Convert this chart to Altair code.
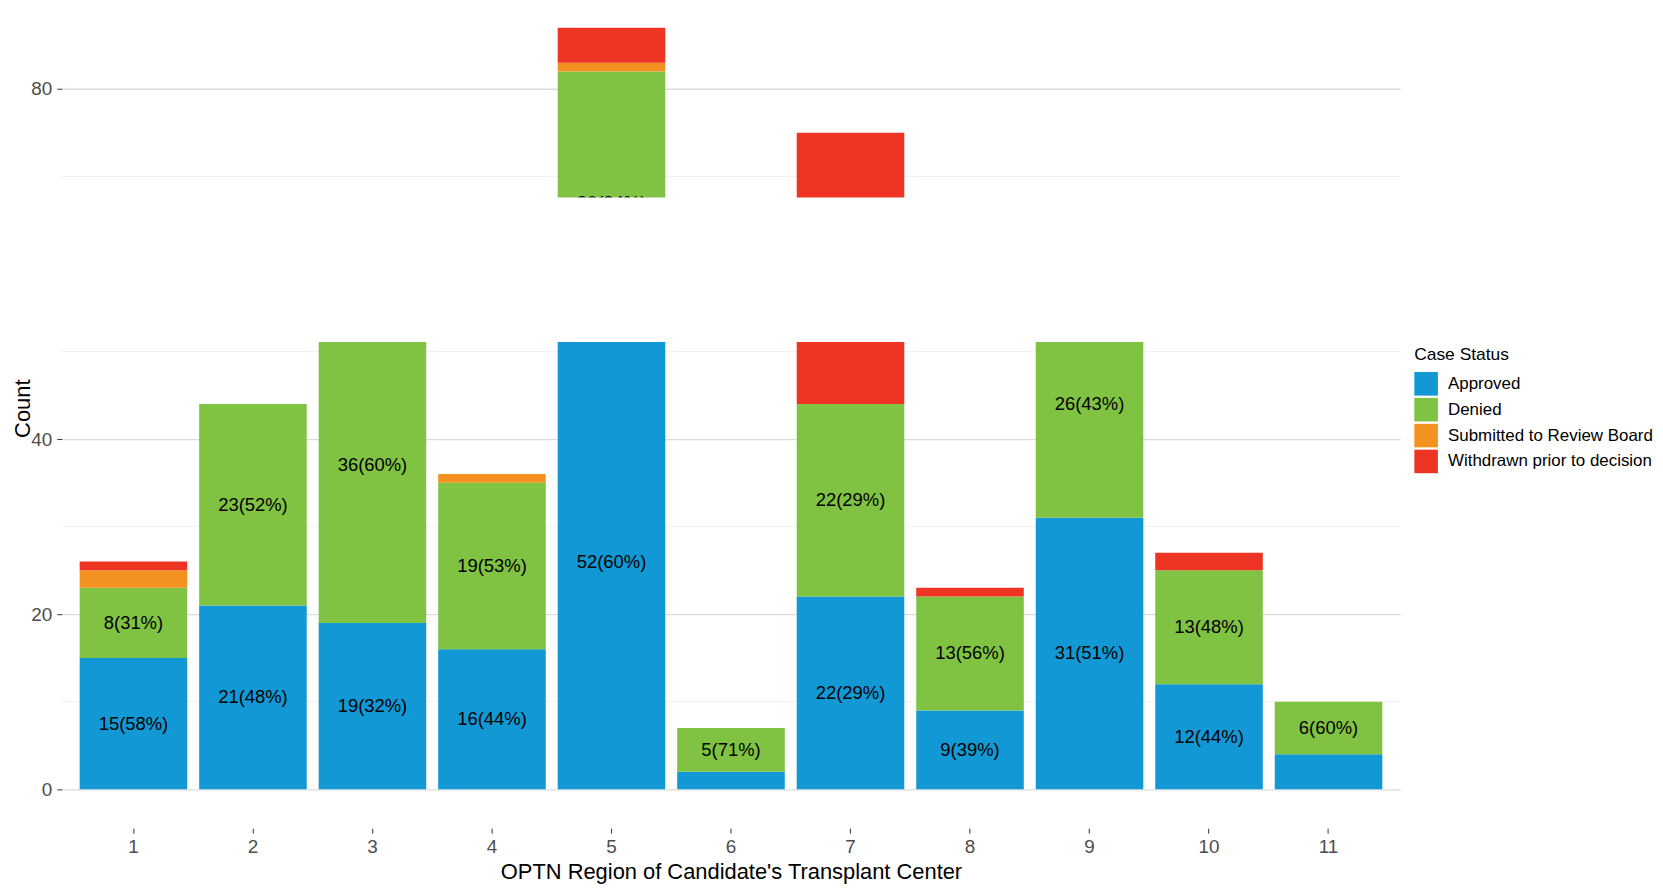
import altair as alt
import pandas as pd

regions = ["1", "2", "3", "4", "5", "6", "7", "8", "9", "10", "11"]
statuses = ["Approved", "Denied", "Submitted to Review Board", "Withdrawn prior to decision"]
colors = ["#1198d5", "#80c242", "#f39121", "#ee3524"]

approved = [15, 21, 19, 16, 52, 2, 22, 9, 31, 12, 4]
denied = [8, 23, 36, 19, 30, 5, 22, 13, 26, 13, 6]
submitted = [2, 0, 0, 1, 1, 0, 0, 0, 0, 0, 0]
withdrawn = [1, 0, 5, 0, 4, 0, 31, 1, 4, 2, 0]

approved_pct = [58, 48, 32, 44, 60, 29, 29, 39, 51, 44, 40]
denied_pct = [31, 52, 60, 53, 34, 71, 29, 56, 43, 48, 60]

major_ticks = [0, 20, 40, 80]
minor_grid = [10, 30, 50, 70]
gap_low = 51.1
gap_high = 67.6
y_domain = [-4.45, 89.0]

rows = []
for i, r in enumerate(regions):
    for k, (s, vals) in enumerate(zip(statuses, [approved, denied, submitted, withdrawn])):
        pct = approved_pct[i] if k == 0 else (denied_pct[i] if k == 1 else 0)
        rows.append({"region": r, "status": s, "count": vals[i], "ord": k, "pct": pct})
df = pd.DataFrame(rows)

FONT = "Liberation Sans"
W, H = 1345, 822

x_axis = alt.Axis(title="OPTN Region of Candidate's Transplant Center", labelAngle=0,
                  grid=False, domain=False, ticks=True, tickSize=5, tickColor="#333333",
                  labelFontSize=19, labelColor="#4d4d4d", labelPadding=4,
                  titleFontSize=22, titleColor="black", titleFontWeight="normal",
                  titleY=44, titleBaseline="middle")
x_scale = alt.Scale(paddingInner=0.1, paddingOuter=0.15)

y_axis = alt.Axis(title="Count", values=major_ticks, grid=True, gridColor="#dcdcdc",
                  gridWidth=1.3, domain=False, tickSize=5, tickColor="#333333",
                  labelFontSize=19, labelColor="#4d4d4d", labelPadding=5,
                  titleFontSize=22, titleColor="black", titleFontWeight="normal",
                  titleAngle=270, titleX=-39, titleY=400, titleBaseline="middle")
y_scale = alt.Scale(domain=y_domain, nice=False, zero=False)

minor = alt.Chart(pd.DataFrame({"v": minor_grid})).mark_rule(color="#f2f2f2", strokeWidth=1).encode(
    y=alt.Y("v:Q", scale=y_scale, axis=y_axis))

bars = alt.Chart(df).mark_bar().encode(
    x=alt.X("region:N", sort=regions, scale=x_scale, axis=x_axis),
    y=alt.Y("count:Q", stack="zero", scale=y_scale, axis=y_axis),
    color=alt.Color("status:N", scale=alt.Scale(domain=statuses, range=colors),
                    legend=alt.Legend(title="Case Status", orient="none", legendX=1359, legendY=338,
                                      symbolType="square", symbolSize=560, symbolStrokeWidth=0,
                                      symbolOpacity=1, rowPadding=2, labelOffset=10,
                                      labelFontSize=17, labelColor="black", titleFontSize=17.5,
                                      titleColor="black", titleFontWeight="normal", titlePadding=8,
                                      labelLimit=400)),
    order=alt.Order("ord:Q", sort="ascending"))

text = alt.Chart(df).transform_stack(
    stack="count", groupby=["region"], as_=["y0", "y1"],
    sort=[alt.SortField("ord", order="ascending")]
).transform_filter(
    "(datum.status == 'Approved' || datum.status == 'Denied') && datum.count >= 5"
).transform_calculate(
    mid="(datum.y0 + datum.y1) / 2",
    lbl="datum.count + '(' + datum.pct + '%)'"
).mark_text(fontSize=18.5, color="black", font=FONT).encode(
    x=alt.X("region:N", sort=regions, scale=x_scale, axis=x_axis),
    y=alt.Y("mid:Q", scale=y_scale, axis=y_axis),
    text="lbl:N")

gap = alt.Chart(pd.DataFrame({"lo": [gap_low], "hi": [gap_high]})).mark_rect(color="white").encode(
    y=alt.Y("lo:Q", scale=y_scale, axis=y_axis), y2="hi:Q",
    x=alt.value(0), x2=alt.value(W))

chart = alt.layer(minor, bars, text, gap).properties(
    width=W, height=H,
    padding={"left": 54, "top": 0, "right": 256, "bottom": 59},
    autosize=alt.AutoSizeParams(type="none"),
).configure(font=FONT).configure_view(stroke=None)

chart.save("out.html", embed_options={"renderer": "svg", "actions": False})
